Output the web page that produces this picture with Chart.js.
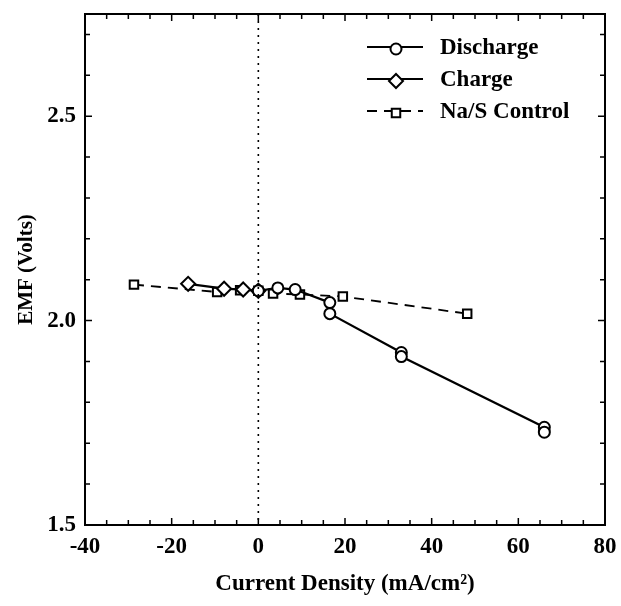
<!DOCTYPE html>
<html>
<head>
<meta charset="utf-8">
<script src="https://cdn.jsdelivr.net/npm/chart.js@4/dist/chart.umd.min.js"></script>
<style>
  body { margin: 0; background: #fff; }
  #wrap { width: 621px; height: 606px; }
</style>
</head>
<body>
<div id="wrap"><canvas id="myChart" width="621" height="606"></canvas></div>
<script>
// values
var dischargeX = [0, 4.5, 8.5, 16.5, 16.5, 33, 33, 66, 66];
var dischargeY = [2.073, 2.080, 2.076, 2.044, 2.017, 1.922, 1.912, 1.739, 1.727];
var chargeX = [-16.2, -7.9, -3.5, 0];
var chargeY = [2.090, 2.078, 2.076, 2.073];
var controlX = [-28.7, -9.5, -4.2, 0, 3.4, 9.6, 19.5, 48.2];
var controlY = [2.088, 2.070, 2.074, 2.073, 2.066, 2.064, 2.059, 2.017];
var seriesNames = ["Discharge", "Charge", "Na/S Control"];
var xTicks = [-40, -20, 0, 20, 40, 60, 80];
var yTicks = [1.5, 2.0, 2.5];

var FONT = "'Liberation Serif', 'Times New Roman', serif";

function points(xs, ys) {
    var out = [];
    for (var i = 0; i < xs.length; i++) out.push({x: xs[i], y: ys[i]});
    return out;
}

// inward ticks on all four sides, the frame, and the dotted zero line
var framePlugin = {
    id: "frame",
    afterDatasetsDraw: function(chart) {
        var ctx = chart.ctx, a = chart.chartArea;
        var xs = chart.scales.x, ys = chart.scales.y;
        ctx.save();
        ctx.strokeStyle = "#000";
        // dotted line at x = 0
        var x0 = xs.getPixelForValue(0);
        ctx.lineWidth = 1.6;
        ctx.setLineDash([2, 5]);
        ctx.beginPath();
        ctx.moveTo(x0, a.top);
        ctx.lineTo(x0, a.bottom);
        ctx.stroke();
        ctx.setLineDash([]);
        // ticks
        ctx.lineWidth = 1.5;
        ctx.beginPath();
        for (var v = -40; v <= 80; v += 5) {
            var px = xs.getPixelForValue(v);
            var len = (v % 20 === 0) ? 7 : 5;
            ctx.moveTo(px, a.bottom); ctx.lineTo(px, a.bottom - len);
            ctx.moveTo(px, a.top); ctx.lineTo(px, a.top + len);
        }
        for (var k = 15; k <= 27; k++) {
            var py = ys.getPixelForValue(k / 10);
            var l2 = (k % 5 === 0) ? 7 : 5;
            ctx.moveTo(a.left, py); ctx.lineTo(a.left + l2, py);
            ctx.moveTo(a.right, py); ctx.lineTo(a.right - l2, py);
        }
        ctx.stroke();
        // frame
        ctx.lineWidth = 2;
        ctx.strokeRect(a.left, a.top, a.right - a.left, a.bottom - a.top);
        ctx.restore();
    }
};

// legend: line with marker in the middle, then bold label
var legendPlugin = {
    id: "sketchLegend",
    afterDraw: function(chart) {
        var ctx = chart.ctx;
        var rows = [48, 80, 112];
        ctx.save();
        for (var i = 0; i < 3; i++) {
            var ds = chart.data.datasets[i];
            var y = rows[i];
            ctx.strokeStyle = "#000";
            ctx.lineWidth = 2;
            ctx.setLineDash(ds.borderDash || []);
            ctx.beginPath();
            ctx.moveTo(367, y - 1); ctx.lineTo(423, y - 1);
            ctx.stroke();
            ctx.setLineDash([]);
            ctx.fillStyle = "#fff";
            ctx.lineWidth = 2;
            Chart.helpers.drawPoint(ctx, {pointStyle: ds.pointStyle, radius: ds.pointRadius, borderWidth: 2}, 396, y + 1);
            ctx.fillStyle = "#000";
            ctx.font = "bold 23px " + FONT;
            ctx.textBaseline = "middle";
            ctx.textAlign = "left";
            ctx.fillText(seriesNames[i], 440, y);
        }
        ctx.restore();
    }
};

var canvas = document.getElementById("myChart").getContext("2d");
var myChart = new Chart(canvas, {
    type: "scatter",
    data: {
        datasets: [{
            label: seriesNames[0],
            data: points(dischargeX, dischargeY),
            showLine: true,
            borderColor: "#000",
            borderWidth: 2.2,
            pointStyle: "circle",
            pointRadius: 5.5,
            pointBorderWidth: 2,
            pointBackgroundColor: "#fff",
            pointBorderColor: "#000"
        }, {
            label: seriesNames[1],
            data: points(chargeX, chargeY),
            showLine: true,
            borderColor: "#000",
            borderWidth: 2.2,
            pointStyle: "rectRot",
            pointRadius: 7,
            pointBorderWidth: 2,
            pointBackgroundColor: "#fff",
            pointBorderColor: "#000"
        }, {
            label: seriesNames[2],
            data: points(controlX, controlY),
            showLine: true,
            borderColor: "#000",
            borderWidth: 1.8,
            borderDash: [10, 7],
            pointStyle: "rect",
            pointRadius: 6,
            pointBorderWidth: 2,
            pointBackgroundColor: "#fff",
            pointBorderColor: "#000"
        }]
    },
    options: {
        responsive: false,
        animation: false,
        layout: { padding: { top: 14, right: 16, left: 0, bottom: 0 } },
        plugins: { legend: { display: false }, tooltip: { enabled: false } },
        scales: {
            x: {
                type: "linear",
                min: -40, max: 80,
                afterBuildTicks: function(s) { s.ticks = xTicks.map(function(v) { return {value: v}; }); },
                afterFit: function(s) { s.height = 81; s.paddingLeft = 0; s.paddingRight = 0; },
                grid: { display: false, drawTicks: false },
                border: { display: false },
                ticks: { color: "#000", padding: 8, font: { family: FONT, size: 23, weight: "bold" } },
                title: {
                    display: true,
                    text: "Current Density (mA/cm\u00B2)",
                    color: "#000",
                    padding: { top: 0, bottom: 8 },
                    font: { family: FONT, size: 23, weight: "bold" }
                }
            },
            y: {
                type: "linear",
                min: 1.5, max: 2.75,
                afterBuildTicks: function(s) { s.ticks = yTicks.map(function(v) { return {value: v}; }); },
                afterFit: function(s) { s.width = 85; s.paddingTop = 0; s.paddingBottom = 0; },
                grid: { display: false, drawTicks: false },
                border: { display: false },
                ticks: {
                    color: "#000", padding: 9,
                    font: { family: FONT, size: 23, weight: "bold" },
                    callback: function(v) { return v.toFixed(1); }
                },
                title: {
                    display: true,
                    text: "EMF (Volts)",
                    color: "#000",
                    padding: { top: 14, bottom: 0 },
                    font: { family: FONT, size: 21, weight: "bold" }
                }
            }
        }
    },
    plugins: [framePlugin, legendPlugin]
});
</script>
</body>
</html>
